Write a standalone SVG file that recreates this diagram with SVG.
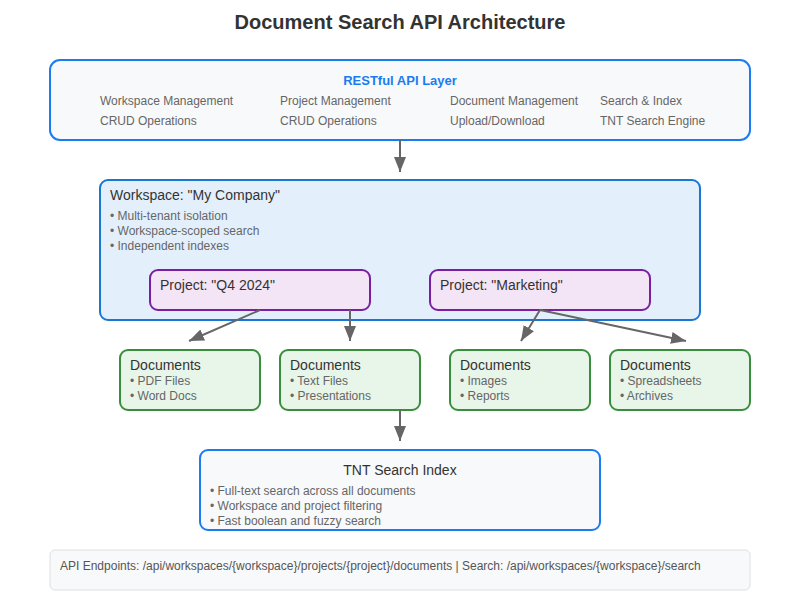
<svg xmlns="http://www.w3.org/2000/svg" width="800" height="600" viewBox="0 0 800 600">
<defs>
<marker id="arr" viewBox="0 0 10 8" refX="10" refY="4" markerWidth="7.5" markerHeight="6" orient="auto" markerUnits="strokeWidth">
<path d="M0,0 L10,4 L0,8 z" fill="#666"/>
</marker>
<style>
text{font-family:"Liberation Sans",Arial,sans-serif}
.title{font-size:20px;font-weight:bold;fill:#333}
.api{fill:#f8f9fa;stroke:#1a7cf0;stroke-width:2}
.ws{fill:#e3f0fc;stroke:#1976d2;stroke-width:2}
.proj{fill:#f3e5f5;stroke:#7b1fa2;stroke-width:2}
.doc{fill:#e8f5e9;stroke:#388e3c;stroke-width:2}
.foot{fill:#f8f9fa;stroke:#e0e0e0;stroke-width:1}
.h{font-size:14px;fill:#333}
.s{font-size:12px;fill:#666}
.conn{stroke:#666;stroke-width:2;fill:none;marker-end:url(#arr)}
</style>
</defs>
<rect width="800" height="600" fill="#fff"/>
<text class="title" x="400" y="29" text-anchor="middle">Document Search API Architecture</text>

<g id="api-layer">
<rect class="api" x="50" y="60" width="700" height="80" rx="10"/>
<text x="400" y="85" text-anchor="middle" style="font-size:13px;font-weight:bold;fill:#1a7cf0">RESTful API Layer</text>
<text class="s" x="100" y="105">Workspace Management</text>
<text class="s" x="100" y="125">CRUD Operations</text>
<text class="s" x="280" y="105">Project Management</text>
<text class="s" x="280" y="125">CRUD Operations</text>
<text class="s" x="450" y="105">Document Management</text>
<text class="s" x="450" y="125">Upload/Download</text>
<text class="s" x="600" y="105">Search &amp; Index</text>
<text class="s" x="600" y="125">TNT Search Engine</text>
</g>

<g id="workspace">
<rect class="ws" x="100" y="180" width="600" height="140" rx="8"/>
<text class="h" x="110" y="200">Workspace: "My Company"</text>
<text class="s" x="110" y="220">• Multi-tenant isolation</text>
<text class="s" x="110" y="235">• Workspace-scoped search</text>
<text class="s" x="110" y="250">• Independent indexes</text>
</g>

<g id="project-q4">
<rect class="proj" x="150" y="270" width="220" height="40" rx="8"/>
<text class="h" x="160" y="290">Project: "Q4 2024"</text>
</g>

<g id="project-marketing">
<rect class="proj" x="430" y="270" width="220" height="40" rx="8"/>
<text class="h" x="440" y="290">Project: "Marketing"</text>
</g>

<g id="docs-1">
<rect class="doc" x="120" y="350" width="140" height="60" rx="8"/>
<text class="h" x="130" y="370">Documents</text>
<text class="s" x="130" y="385">• PDF Files</text>
<text class="s" x="130" y="400">• Word Docs</text>
</g>
<g id="docs-2">
<rect class="doc" x="280" y="350" width="140" height="60" rx="8"/>
<text class="h" x="290" y="370">Documents</text>
<text class="s" x="290" y="385">• Text Files</text>
<text class="s" x="290" y="400">• Presentations</text>
</g>
<g id="docs-3">
<rect class="doc" x="450" y="350" width="140" height="60" rx="8"/>
<text class="h" x="460" y="370">Documents</text>
<text class="s" x="460" y="385">• Images</text>
<text class="s" x="460" y="400">• Reports</text>
</g>
<g id="docs-4">
<rect class="doc" x="610" y="350" width="140" height="60" rx="8"/>
<text class="h" x="620" y="370">Documents</text>
<text class="s" x="620" y="385">• Spreadsheets</text>
<text class="s" x="620" y="400">• Archives</text>
</g>

<g id="tnt-index">
<rect class="api" x="200" y="450" width="400" height="80" rx="8"/>
<text x="400" y="475" text-anchor="middle" style="font-size:14px;fill:#333">TNT Search Index</text>
<text class="s" x="210" y="495">• Full-text search across all documents</text>
<text class="s" x="210" y="510">• Workspace and project filtering</text>
<text class="s" x="210" y="525">• Fast boolean and fuzzy search</text>
</g>

<g id="footer">
<rect class="foot" x="50" y="550" width="700" height="40" rx="5"/>
<text x="60" y="570" style="font-size:12px;fill:#555">API Endpoints: /api/workspaces/{workspace}/projects/{project}/documents | Search: /api/workspaces/{workspace}/search</text>
</g>

<g id="connectors">
<line class="conn" x1="400" y1="140" x2="400" y2="172"/>
<line class="conn" x1="260" y1="310" x2="189" y2="341"/>
<line class="conn" x1="350" y1="310" x2="350" y2="341"/>
<line class="conn" x1="540" y1="310" x2="521" y2="341"/>
<line class="conn" x1="540" y1="310" x2="686" y2="341"/>
<line class="conn" x1="400" y1="410" x2="400" y2="441"/>
</g>
</svg>
